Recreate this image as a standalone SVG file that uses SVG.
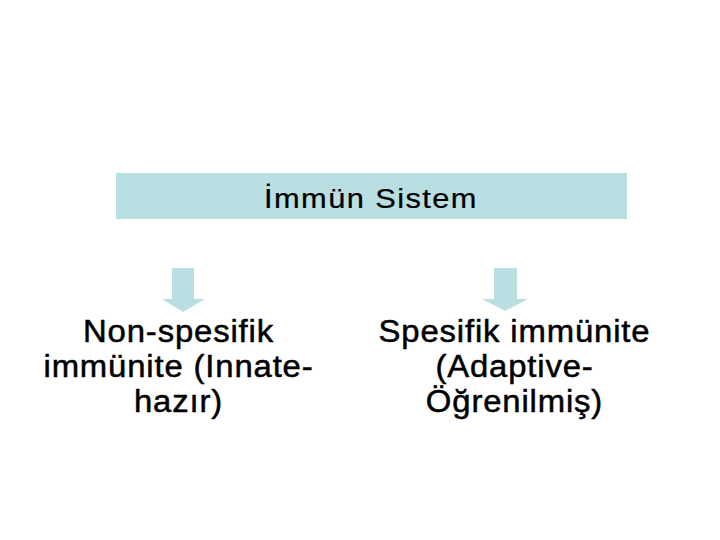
<svg xmlns="http://www.w3.org/2000/svg" width="720" height="540" viewBox="0 0 720 540">
<style>
.t{font-family:"Liberation Sans",Arial,sans-serif;fill:#000;text-anchor:middle;stroke:#000}
.big{font-size:31px;stroke-width:0.5px;letter-spacing:0.8px}
.title{font-size:28px;stroke-width:0.25px;letter-spacing:1.3px}
.fill{fill:#b9dfe3}
</style>
<rect width="720" height="540" fill="#fff"/>
<g id="root">
<rect class="fill" x="116" y="173" width="511" height="46"/>
<text class="t title" transform="translate(371,207.5) scale(1.1,1)">İmmün Sistem</text>
</g>
<g id="connectors">
<polygon class="fill" points="172,268 194,268 194,299 205,299 183,312 162,299 172,299"/>
<polygon class="fill" points="494,268 517,268 517,299 528,299 505,311 482,299 494,299"/>
</g>
<g id="nonspesifik">
<text class="t big" transform="translate(178.5,342) scale(1.06,1)">Non-spesifik</text>
<text class="t big" transform="translate(178.5,377) scale(1.06,1)">immünite (Innate-</text>
<text class="t big" transform="translate(178.5,412) scale(1.06,1)">hazır)</text>
</g>
<g id="spesifik">
<text class="t big" transform="translate(514.5,342) scale(1.06,1)">Spesifik immünite</text>
<text class="t big" transform="translate(514.5,377) scale(1.06,1)">(Adaptive-</text>
<text class="t big" transform="translate(514.5,412) scale(1.06,1)">Öğrenilmiş)</text>
</g>
</svg>
